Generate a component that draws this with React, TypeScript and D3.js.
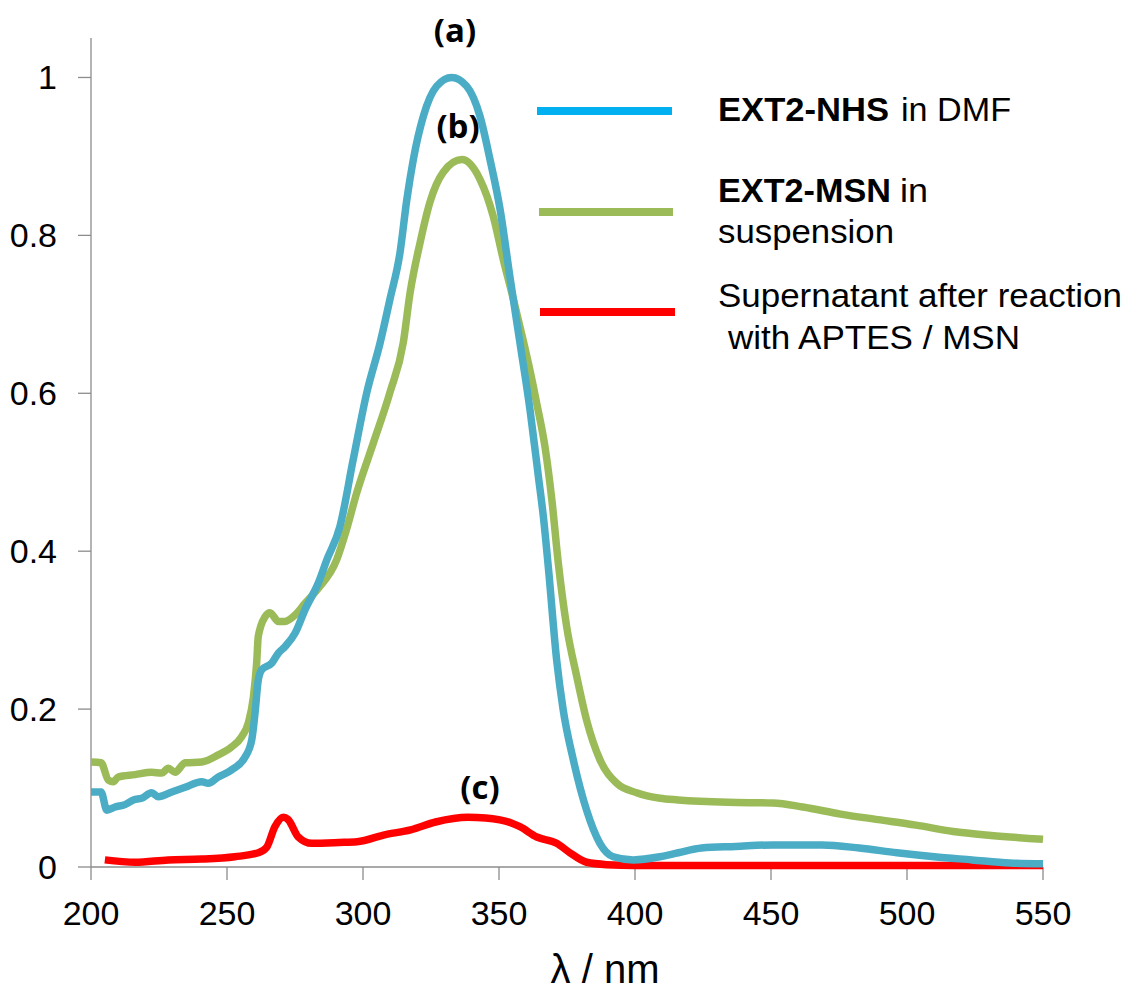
import React from "react";
import * as d3 from "d3";

// ---- data ----
const nhsX = [200, 203.7, 205.8, 208.8, 212.5, 215.6, 218.6, 222.3, 224.7, 229.7, 234.6, 240.7, 243.1, 246.8, 251.7, 256.6, 259.1, 260.3, 261.5, 262.8, 266.4, 268.9, 271.3, 275, 278.7, 283.6, 286.7, 291.5, 296.4, 301.4, 306.3, 309.9, 313.6, 316.1, 318.5, 322.2, 327.1, 332.6, 338.1, 343, 346.7, 350.4, 354, 357.7, 361.4, 364.5, 366.3, 368.1, 371.2, 373.6, 377.3, 382.2, 387.1, 392, 399.4, 409.2, 415.9, 424.5, 437, 450.7, 468.8, 482.5, 496.3, 510, 523.9, 537.8, 550];
const nhsY = [0.095, 0.095, 0.072, 0.076, 0.079, 0.085, 0.087, 0.094, 0.089, 0.095, 0.101, 0.108, 0.106, 0.114, 0.123, 0.139, 0.161, 0.195, 0.237, 0.25, 0.258, 0.271, 0.279, 0.296, 0.326, 0.36, 0.389, 0.431, 0.516, 0.601, 0.664, 0.719, 0.778, 0.845, 0.896, 0.951, 0.989, 1.0, 0.989, 0.951, 0.896, 0.833, 0.748, 0.664, 0.579, 0.494, 0.444, 0.381, 0.262, 0.199, 0.136, 0.072, 0.03, 0.013, 0.009, 0.013, 0.018, 0.024, 0.026, 0.028, 0.028, 0.024, 0.018, 0.013, 0.009, 0.005, 0.004];

const msnX = [200, 203.7, 206.4, 208.2, 210, 216.2, 222.3, 226, 228.4, 230.9, 234.6, 240.7, 246.8, 251.7, 255.4, 257.8, 259.7, 260.9, 261.5, 264, 265.8, 268.9, 271.3, 275, 278.7, 283.6, 290.3, 293.9, 297.7, 303.8, 309.9, 314.8, 317.3, 321, 324.6, 329.5, 336.3, 343, 347.9, 351.6, 355.3, 358, 361, 364, 367, 369.4, 371.8, 374.9, 378.6, 382.2, 387.1, 393.3, 400.6, 409.2, 415.9, 434.2, 450.7, 461.7, 475.6, 489.4, 503.3, 517, 530.9, 550];
const msnY = [0.133, 0.132, 0.11, 0.108, 0.114, 0.117, 0.12, 0.119, 0.125, 0.12, 0.132, 0.133, 0.142, 0.152, 0.165, 0.182, 0.215, 0.258, 0.292, 0.317, 0.322, 0.311, 0.311, 0.319, 0.334, 0.353, 0.389, 0.427, 0.474, 0.537, 0.601, 0.664, 0.727, 0.791, 0.842, 0.88, 0.896, 0.871, 0.824, 0.769, 0.719, 0.68, 0.635, 0.585, 0.53, 0.466, 0.385, 0.304, 0.241, 0.186, 0.136, 0.106, 0.094, 0.087, 0.085, 0.082, 0.081, 0.076, 0.067, 0.06, 0.053, 0.045, 0.04, 0.035];

const supX = [205.1, 216.2, 228.4, 240.7, 252.9, 261.5, 264.6, 267.6, 270.7, 272.5, 276.2, 281.1, 291.2, 297.8, 308.3, 317.5, 326.7, 338.6, 345.1, 354.3, 357.7, 363.9, 371.2, 376.1, 382.2, 389.6, 400, 450, 500, 550];
const supY = [0.009, 0.006, 0.009, 0.01, 0.013, 0.018, 0.025, 0.051, 0.063, 0.06, 0.038, 0.03, 0.031, 0.032, 0.041, 0.047, 0.057, 0.063, 0.062, 0.056, 0.051, 0.038, 0.03, 0.018, 0.006, 0.003, 0.002, 0.002, 0.002, 0.002];

const xTicks = [200, 250, 300, 350, 400, 450, 500, 550];
const yTicks = [0, 0.2, 0.4, 0.6, 0.8, 1];
const yTickLabels = ["0", "0.2", "0.4", "0.6", "0.8", "1"];

const seriesNames = ["EXT2-NHS", "EXT2-MSN", "Supernatant"];

export default function App() {
  const W = 1130, H = 992;
  const x = d3.scaleLinear().domain([200, 550]).range([91, 1043]);
  const y = d3.scaleLinear().domain([0, 1.05]).range([867, 38]);
  const line = d3
    .line<[number, number]>()
    .x((d) => x(d[0]))
    .y((d) => y(d[1]))
    .curve(d3.curveMonotoneX);
  const zip = (a: number[], b: number[]) => a.map((v, i) => [v, b[i]] as [number, number]);
  const font = "'Liberation Sans', Arial, sans-serif";
  const axisColor = "#8c8c8c";

  return (
    <svg
      width={W}
      height={H}
      style={{ position: "absolute", left: 0, top: 0, background: "#fff" }}
      fontFamily={font}
    >
      <rect width={W} height={H} fill="#fff" />
      {/* axes */}
      <line x1={x(200)} x2={x(200)} y1={y(1.05)} y2={y(0)} stroke={axisColor} strokeWidth={1.3} />
      <line x1={x(200)} x2={x(550)} y1={y(0)} y2={y(0)} stroke={axisColor} strokeWidth={1.3} />
      {yTicks.map((t, i) => (
        <g key={"y" + t}>
          <line x1={x(200) - 13} x2={x(200)} y1={y(t)} y2={y(t)} stroke={axisColor} strokeWidth={1.3} />
          <text x={57} y={y(t) + 12} textAnchor="end" fontSize={34} fill="#000">
            {yTickLabels[i]}
          </text>
        </g>
      ))}
      {xTicks.map((t) => (
        <g key={"x" + t}>
          <line x1={x(t)} x2={x(t)} y1={y(0)} y2={y(0) + 13} stroke={axisColor} strokeWidth={1.3} />
          <text x={x(t)} y={925} textAnchor="middle" fontSize={34} fill="#000">
            {t}
          </text>
        </g>
      ))}
      <text x={605} y={983} textAnchor="middle" fontSize={40} fill="#000">
        λ / nm
      </text>

      {/* series */}
      <path d={line(zip(supX, supY)) || ""} fill="none" stroke="#ff0000" strokeWidth={7.5} strokeLinejoin="round" />
      <path d={line(zip(msnX, msnY)) || ""} fill="none" stroke="#9bbb59" strokeWidth={7.5} strokeLinejoin="round" />
      <path d={line(zip(nhsX, nhsY)) || ""} fill="none" stroke="#4bacc6" strokeWidth={7.5} strokeLinejoin="round" />

      {/* annotations */}
      <g fontFamily="'Open Sans', sans-serif" fontWeight="bold" fontSize={33} fill="#000" textAnchor="middle">
        <text x={455} y={42}>(a)</text>
        <text x={458} y={138}>(b)</text>
        <text x={480} y={799}>(c)</text>
      </g>

      {/* legend */}
      <line x1={537} x2={672} y1={111} y2={111} stroke="#00b0f0" strokeWidth={8} />
      <line x1={539} x2={673} y1={212} y2={212} stroke="#9bbb59" strokeWidth={8} />
      <line x1={540} x2={675} y1={312} y2={312} stroke="#ff0000" strokeWidth={8} />
      <g fontSize={34} fill="#000">
        <text x={718} y={121} fontWeight="bold" textLength={171} lengthAdjust="spacingAndGlyphs">{seriesNames[0]}</text>
        <text x={901} y={121} textLength={110} lengthAdjust="spacingAndGlyphs">in DMF</text>
        <text x={718} y={202} fontWeight="bold" textLength={173} lengthAdjust="spacingAndGlyphs">{seriesNames[1]}</text>
        <text x={900} y={202} textLength={28} lengthAdjust="spacingAndGlyphs">in</text>
        <text x={718} y={243} textLength={176} lengthAdjust="spacingAndGlyphs">suspension</text>
        <text x={718} y={307} textLength={404} lengthAdjust="spacingAndGlyphs">Supernatant after reaction</text>
        <text x={728} y={349} textLength={292} lengthAdjust="spacingAndGlyphs">with APTES / MSN</text>
      </g>
    </svg>
  );
}
